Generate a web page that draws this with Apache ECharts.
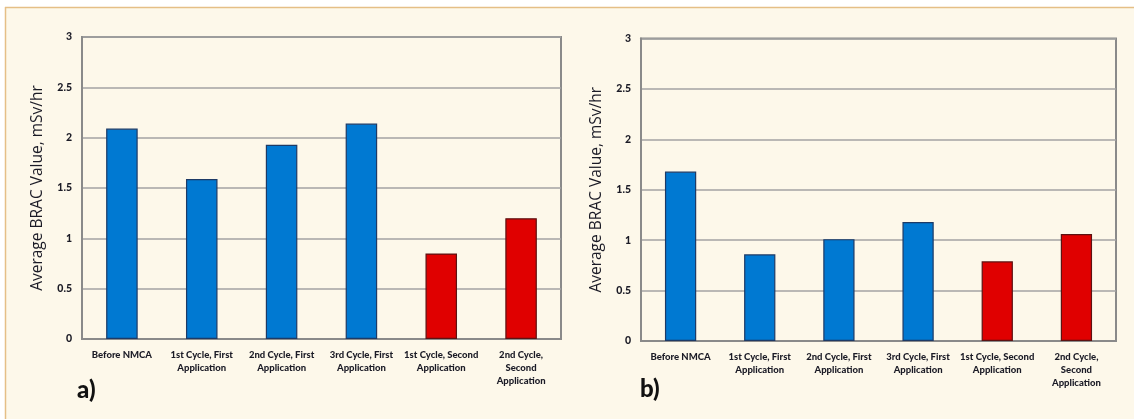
<!DOCTYPE html>
<html>
<head>
<meta charset="utf-8">
<script src="https://cdn.jsdelivr.net/npm/echarts@6/dist/echarts.min.js"></script>
<style>
  html, body { margin: 0; padding: 0; background: #ffffff; }
  #chart { width: 1134px; height: 419px; }
</style>
</head>
<body>
<div id="chart"></div>
<script>
// Average BRAC dose rate per operating stage, two plants
const categories = [
  'Before NMCA',
  '1st Cycle, First\nApplication',
  '2nd Cycle, First\nApplication',
  '3rd Cycle, First\nApplication',
  '1st Cycle, Second\nApplication',
  '2nd Cycle,\nSecond\nApplication'
];
const valuesA = [2.09, 1.59, 1.93, 2.14, 0.85, 1.20];
const valuesB = [1.68, 0.86, 1.01, 1.18, 0.79, 1.06];
// which NMCA application each stage belongs to (second application drawn in red)
const application = ['first', 'first', 'first', 'first', 'second', 'second'];
const yTicks = [0, 0.5, 1, 1.5, 2, 2.5, 3];
const yTitle = 'Average BRAC Value, mSv/hr';
const panelTags = ['a)', 'b)'];

const FONT = 'Lato, "Open Sans", sans-serif';
const TITLE_FONT = '"Open Sans", Lato, sans-serif';
const TEXT = '#1b1b26';

const fill = { first: '#0079d2', second: '#e00000' };
const edge = { first: '#1d3a66', second: '#5c1212' };

function barData(values) {
  return values.map((v, i) => ({
    value: v,
    itemStyle: { color: fill[application[i]], borderColor: edge[application[i]], borderWidth: 1.2 }
  }));
}

const grids = [
  { left: 82, top: 37, width: 479, height: 302 },
  { left: 641, top: 38.5, width: 475, height: 302.5 }
];

function xAxis(gi) {
  return {
    type: 'category', gridIndex: gi, data: categories,
    axisLine: { show: true, lineStyle: { color: '#8a8a8a', width: 2 } },
    axisTick: { show: false },
    axisLabel: {
      interval: 0, margin: 9, fontFamily: FONT, fontWeight: 900,
      fontSize: 9.5, lineHeight: 13, color: TEXT
    }
  };
}

function yAxis(gi) {
  return {
    type: 'value', gridIndex: gi, min: yTicks[0], max: yTicks[yTicks.length - 1], interval: 0.5,
    name: yTitle, nameLocation: 'middle', nameGap: 36,
    nameTextStyle: { fontFamily: TITLE_FONT, fontSize: 15.5, color: TEXT },
    axisLine: { show: true, lineStyle: { color: '#8a8a8a', width: 2 } },
    axisTick: { show: false },
    axisLabel: { margin: 10, fontFamily: FONT, fontWeight: 900, fontSize: 10.5, color: TEXT },
    splitLine: { show: true, lineStyle: { color: '#a3a3a3', width: 1.6 } }
  };
}

const chart = echarts.init(document.getElementById('chart'), null, { renderer: 'canvas' });
chart.setOption({
  backgroundColor: '#fdf8ea',
  animation: false,
  grid: grids.map(g => Object.assign({ show: true, borderColor: '#8a8a8a', borderWidth: 2, backgroundColor: 'transparent' }, g)),
  xAxis: [xAxis(0), xAxis(1)],
  yAxis: [yAxis(0), yAxis(1)],
  series: [
    { type: 'bar', xAxisIndex: 0, yAxisIndex: 0, barWidth: '39.5%', data: barData(valuesA) },
    { type: 'bar', xAxisIndex: 1, yAxisIndex: 1, barWidth: '39.5%', data: barData(valuesB) }
  ],
  graphic: [
    // white margin and tan frame edge
    { type: 'rect', shape: { x: 0, y: 0, width: 1134, height: 7 }, style: { fill: '#ffffff' }, silent: true },
    { type: 'rect', shape: { x: 0, y: 0, width: 5, height: 419 }, style: { fill: '#ffffff' }, silent: true },
    { type: 'line', shape: { x1: 5, y1: 7.5, x2: 1134, y2: 7.5 }, style: { stroke: '#e5bf86', lineWidth: 1.5 }, silent: true },
    { type: 'line', shape: { x1: 5.5, y1: 7, x2: 5.5, y2: 419 }, style: { stroke: '#e5bf86', lineWidth: 1.5 }, silent: true },
    { type: 'text', left: 77, top: 378, style: { text: panelTags[0], font: '900 24px ' + FONT, fill: '#111' } },
    { type: 'text', left: 640, top: 377, style: { text: panelTags[1], font: '900 24px ' + FONT, fill: '#111' } }
  ]
});
</script>
</body>
</html>
